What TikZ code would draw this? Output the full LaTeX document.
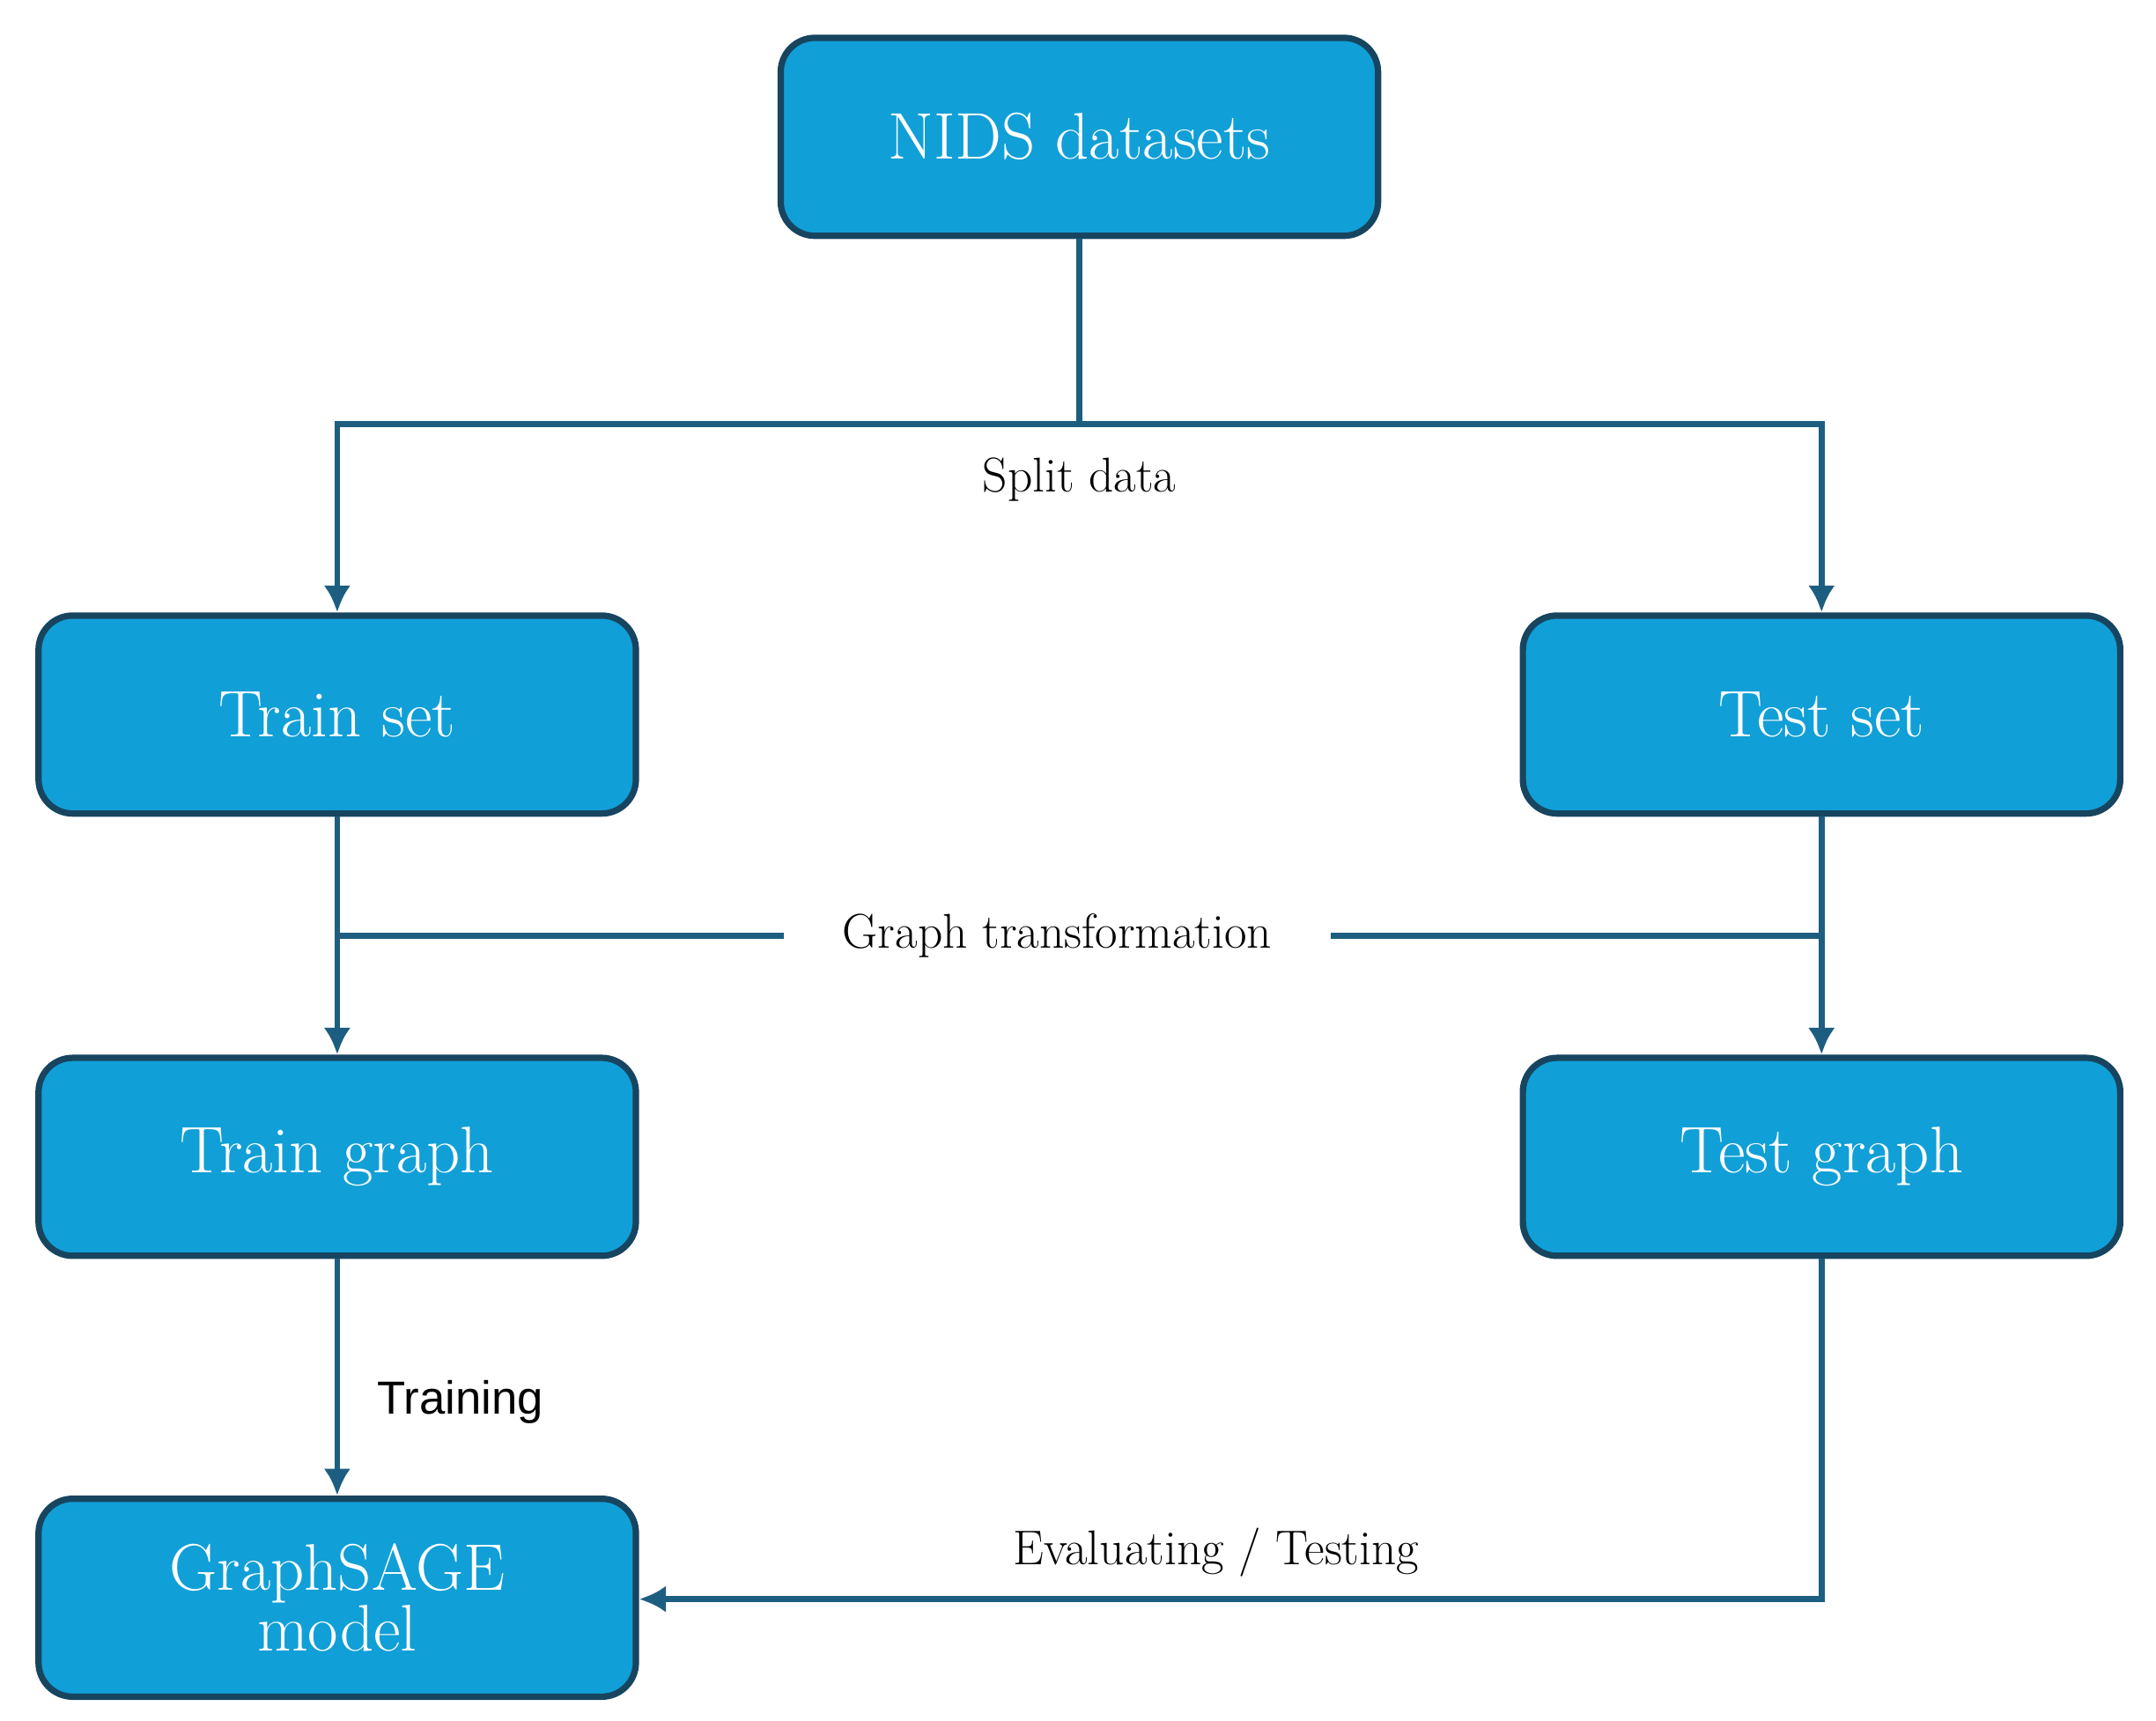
\documentclass[tikz,border=0pt]{standalone}
\usepackage{fontspec}
\newfontfamily\labelsans{Liberation Sans}
\usetikzlibrary{positioning,arrows.meta}
\definecolor{boxfill}{HTML}{119FD7}
\definecolor{boxline}{HTML}{17455F}
\definecolor{flowline}{HTML}{1D5E80}
\tikzset{
	stage/.style={rectangle, rounded corners=14pt, line width=2.6pt, draw=boxline, fill=boxfill,
		text=white, minimum width=8.6cm, minimum height=2.85cm, align=center,
		font=\fontsize{27}{31}\selectfont},
	flow/.style={line width=2.4pt, draw=flowline, -{Latex[length=11pt,width=11pt]}},
	tag/.style={font=\fontsize{20}{24}\selectfont}
}
\begin{document}
\begin{tikzpicture}[x=0.0199cm,y=-0.0199cm]
	\useasboundingbox (0,0) rectangle (1560,1245);

	\node 	(nids)		at	(781,99) 	[stage]{NIDS datasets};
	\node 	(trainset)	at	(244,517) 	[stage]{Train set};
	\node 	(testset)	at	(1318,517) 	[stage]{Test set};
	\node 	(traingraph)	at	(244,837) 	[stage]{Train graph};
	\node 	(testgraph)	at	(1318,837) 	[stage]{Test graph};
	\node 	(sage)		at	(244,1156) 	[stage]{GraphSAGE\\[-6pt]model};

	% split
	\coordinate (split) at (781,307);
	\draw[flow,-] (nids) -- (split);
	\draw[flow] (split) -| (trainset);
	\draw[flow] (split) -| (testset);
	\node[tag] (splitlbl) at (781,347) {Split data};

	% graph transformation
	\draw[flow] (trainset) -- (traingraph);
	\draw[flow] (testset) -- (testgraph);
	\node[tag,inner xsep=24pt] (gtlbl) at (765,677) {Graph transformation};
	\coordinate (gtl) at (244,677);
	\coordinate (gtr) at (1318,677);
	\draw[flow,-] (gtl) -- (gtlbl.west);
	\draw[flow,-] (gtlbl.east) -- (gtr);

	% training and testing
	\draw[flow] (traingraph) -- node[right,xshift=12pt,yshift=-10pt,font=\labelsans\fontsize{19}{22}\selectfont]{Training} (sage);
	\coordinate (evalcorner) at (1318,1157);
	\draw[flow] (testgraph) |- (sage.east |- evalcorner);
	\node[tag] (evallbl) at (880,1123) {Evaluating / Testing};
\end{tikzpicture}
\end{document}
